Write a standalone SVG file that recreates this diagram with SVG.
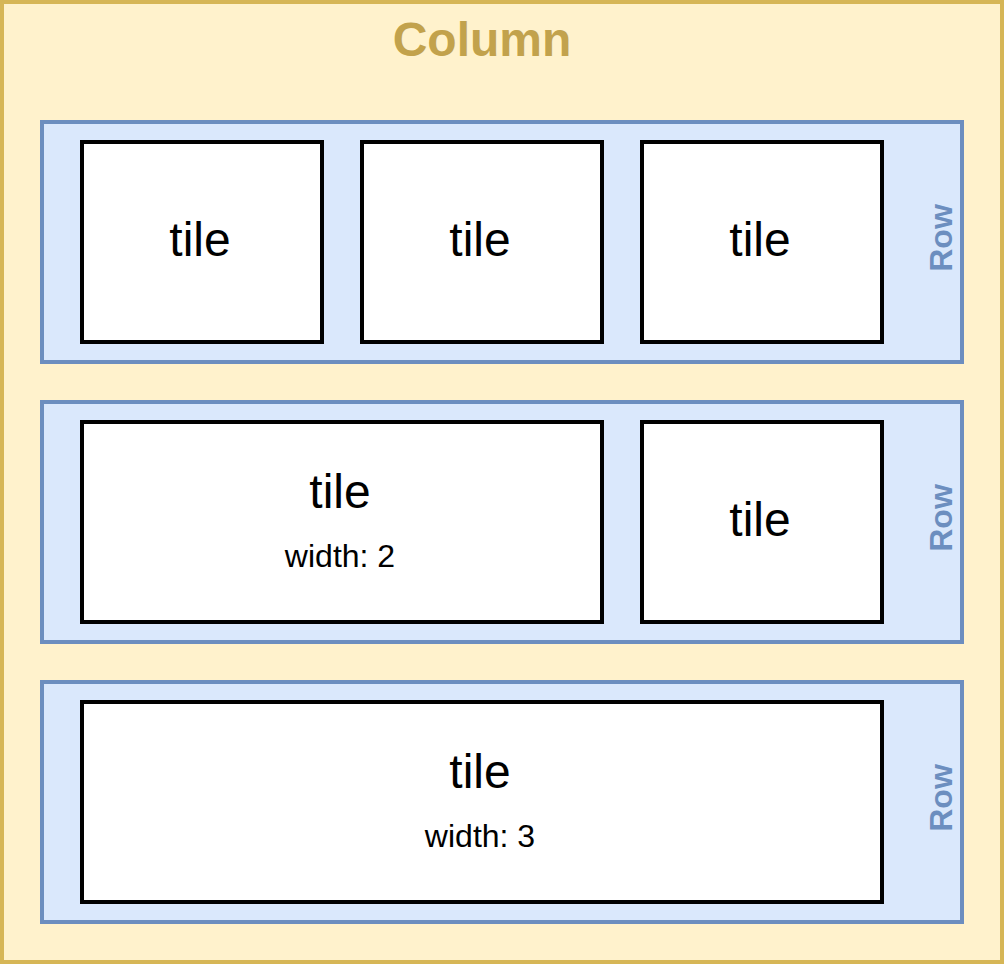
<svg xmlns="http://www.w3.org/2000/svg" width="1004" height="964" viewBox="0 0 1004 964">
  <style>
    .column { fill: #fff2cc; stroke: #d6b656; stroke-width: 4; }
    .row { fill: #dae8fc; stroke: #6c8ebf; stroke-width: 4; }
    .tile { fill: #ffffff; stroke: #000000; stroke-width: 4; }
    .title { font-family: "Liberation Sans", Arial, sans-serif; font-weight: bold; font-size: 48px; fill: #c2a24c; text-anchor: middle; }
    .rowlabel { font-family: "Liberation Sans", Arial, sans-serif; font-weight: bold; font-size: 32px; fill: #6c8ebf; text-anchor: middle; }
    .tilelabel { font-family: "Liberation Sans", Arial, sans-serif; font-size: 48px; fill: #000000; text-anchor: middle; }
    .sub { font-family: "Liberation Sans", Arial, sans-serif; font-size: 32px; fill: #000000; text-anchor: middle; }
  </style>

  <!-- outer column container -->
  <g id="column">
    <rect class="column" x="2" y="2" width="1000" height="960"/>
    <text class="title" x="482" y="56">Column</text>
  </g>

  <!-- first row: three single-width tiles -->
  <g id="row1">
    <rect class="row" x="42" y="122" width="920" height="240"/>
    <text class="rowlabel" transform="translate(952 238) rotate(-90)">Row</text>
  </g>
  <g id="tile-1-1">
    <rect class="tile" x="82" y="142" width="240" height="200"/>
    <text class="tilelabel" x="200" y="256">tile</text>
  </g>
  <g id="tile-1-2">
    <rect class="tile" x="362" y="142" width="240" height="200"/>
    <text class="tilelabel" x="480" y="256">tile</text>
  </g>
  <g id="tile-1-3">
    <rect class="tile" x="642" y="142" width="240" height="200"/>
    <text class="tilelabel" x="760" y="256">tile</text>
  </g>

  <!-- second row: one double-width tile and one single -->
  <g id="row2">
    <rect class="row" x="42" y="402" width="920" height="240"/>
    <text class="rowlabel" transform="translate(952 518) rotate(-90)">Row</text>
  </g>
  <g id="tile-2-1">
    <rect class="tile" x="82" y="422" width="520" height="200"/>
    <text class="tilelabel" x="340" y="508">tile</text>
    <text class="sub" x="340" y="567">width: 2</text>
  </g>
  <g id="tile-2-2">
    <rect class="tile" x="642" y="422" width="240" height="200"/>
    <text class="tilelabel" x="760" y="536">tile</text>
  </g>

  <!-- third row: one triple-width tile -->
  <g id="row3">
    <rect class="row" x="42" y="682" width="920" height="240"/>
    <text class="rowlabel" transform="translate(952 798) rotate(-90)">Row</text>
  </g>
  <g id="tile-3-1">
    <rect class="tile" x="82" y="702" width="800" height="200"/>
    <text class="tilelabel" x="480" y="788">tile</text>
    <text class="sub" x="480" y="847">width: 3</text>
  </g>

  <g id="connectors"/>
</svg>
